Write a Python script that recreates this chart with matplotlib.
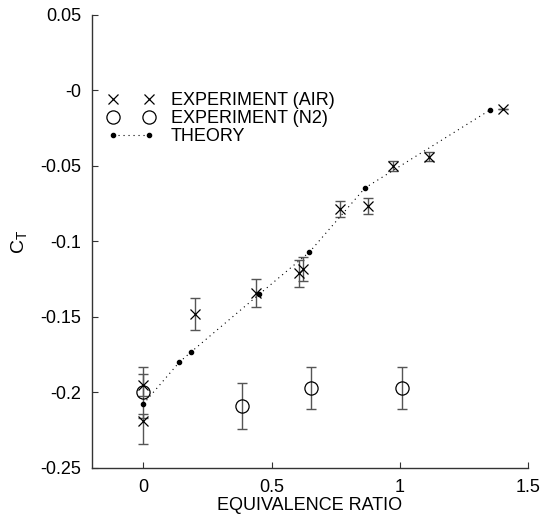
import matplotlib
matplotlib.use("Agg")
from matplotlib import pyplot as plt
from matplotlib import ticker
import numpy as np

plt.rcParams["font.family"] = ["Liberation Sans", "DejaVu Sans"]
plt.rcParams["mathtext.fontset"] = "custom"
plt.rcParams["mathtext.rm"] = "Liberation Sans"
plt.rcParams["mathtext.it"] = "Liberation Sans"
plt.rcParams["axes.unicode_minus"] = False

# experiment in air
air_x = [0.0, 0.0, 0.203, 0.441, 0.607, 0.622, 0.766, 0.875, 0.973, 1.113, 1.402]
air_y = [-0.195, -0.219, -0.148, -0.134, -0.121, -0.118, -0.0785, -0.0765, -0.050, -0.044, -0.012]
air_err_lo = [0.007, 0.015, 0.0105, 0.0093, 0.009, 0.008, 0.0055, 0.0055, 0.003, 0.003, 0.0]
air_err_hi = [0.007, 0.005, 0.0105, 0.0093, 0.009, 0.008, 0.0055, 0.0055, 0.003, 0.003, 0.0]

# experiment in N2
n2_x = [0.0, 0.383, 0.652, 1.01]
n2_y = [-0.200, -0.209, -0.197, -0.197]
n2_err = [0.017, 0.015, 0.014, 0.014]

# theory
th_x = [0.0, 0.14, 0.1875, 0.453, 0.648, 0.864, 1.352]
th_y = [-0.2076, -0.180, -0.173, -0.1348, -0.107, -0.0646, -0.0129]

fig = plt.figure(figsize=(5.5, 5.2), dpi=100)
ax = fig.add_axes([0.1673, 0.1, 0.7927, 0.8712])

ebc = "#555555"
ax.errorbar(air_x, air_y, yerr=[air_err_lo, air_err_hi], fmt="none",
            ecolor=ebc, elinewidth=1.0, capsize=3.5, capthick=1.0)
ax.errorbar(n2_x, n2_y, yerr=n2_err, fmt="none",
            ecolor=ebc, elinewidth=1.0, capsize=3.5, capthick=1.0)

ax.plot(air_x, air_y, "x", color="black", ms=6.5, mew=0.9,
        label="EXPERIMENT (AIR)")
ax.plot(n2_x, n2_y, "o", mfc="none", mec="black", ms=9.5, mew=0.9,
        label="EXPERIMENT (N2)")
ax.plot(th_x, th_y, color="black", lw=0.8, dashes=(1, 3.5), marker="o",
        ms=3, label="THEORY")

ax.set_xlim(-0.2, 1.5)
ax.set_ylim(-0.25, 0.05)
ax.set_xticks([0, 0.5, 1, 1.5])
ax.set_yticks(np.arange(-0.25, 0.051, 0.05))
fmt = ticker.FuncFormatter(lambda v, p: "%g" % round(v, 4))
ax.xaxis.set_major_formatter(fmt)
ax.yaxis.set_major_formatter(fmt)

for s in ["top", "right"]:
    ax.spines[s].set_visible(False)
for s in ["left", "bottom"]:
    ax.spines[s].set_color("#333333")
    ax.spines[s].set_linewidth(1.0)
ax.tick_params(direction="in", length=4, width=0.8, color="#333333",
               labelsize=13, pad=8)

ax.set_xlabel("EQUIVALENCE RATIO", fontsize=13, labelpad=1)
ax.set_ylabel(r"C$_\mathrm{T}$", fontsize=14, labelpad=8)

ax.legend(loc="upper left", bbox_to_anchor=(0.036, 0.829), frameon=False,
          numpoints=2, handlelength=2.6, handletextpad=0.9,
          labelspacing=0.05, fontsize=13, borderpad=0, borderaxespad=0)

fig.savefig("out.png", dpi=100)
